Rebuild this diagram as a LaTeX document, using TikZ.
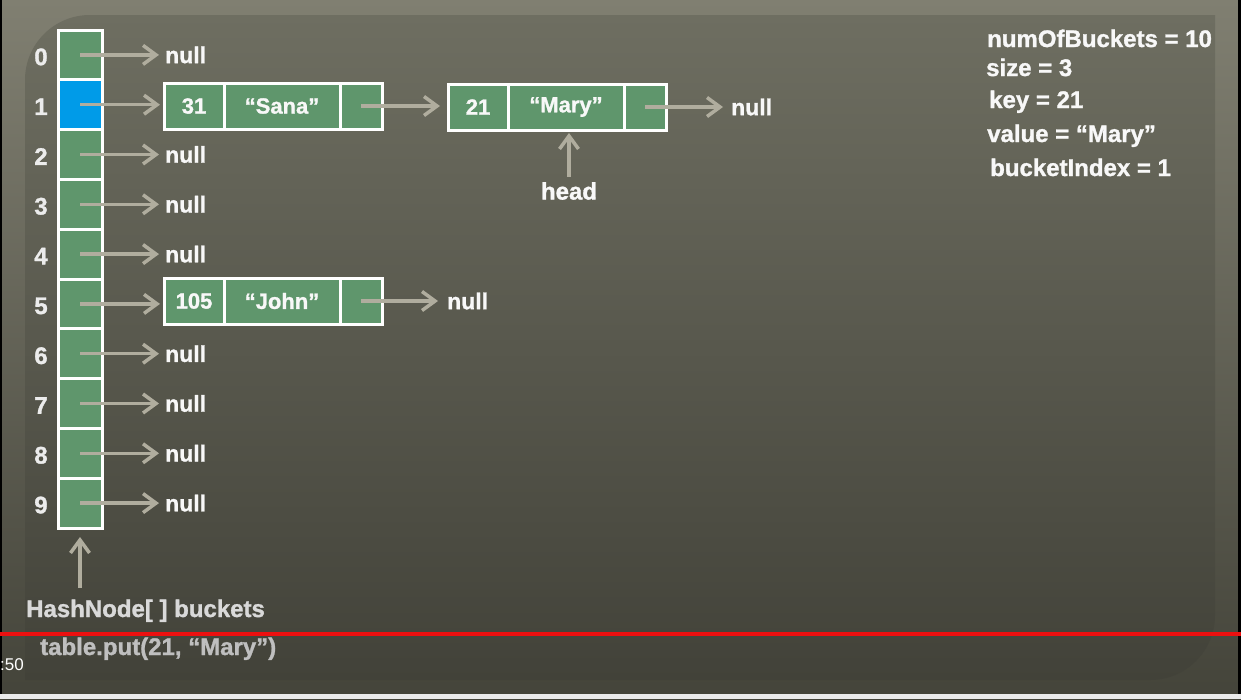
\documentclass[tikz,border=0pt]{standalone}
\usepackage{fontspec}
\setmainfont{Liberation Sans}[BoldFeatures={FakeBold=1.2}]
\usetikzlibrary{arrows.meta}
\definecolor{outertop}{RGB}{128,127,113}
\definecolor{outerbot}{RGB}{68,68,58}
\definecolor{paneltop}{RGB}{110,110,97}
\definecolor{panelbot}{RGB}{66,66,57}
\definecolor{cellgreen}{RGB}{95,150,108}
\definecolor{cellblue}{RGB}{0,155,232}
\definecolor{arrowgray}{RGB}{176,173,158}
\definecolor{txtwhite}{RGB}{248,248,248}
\definecolor{idxwhite}{RGB}{236,236,236}
\definecolor{redline}{RGB}{236,16,16}
\begin{document}
\begin{tikzpicture}[x=1pt,y=-1pt,
  cell/.style={draw=white, line width=3pt, fill=cellgreen, minimum width=44pt, minimum height=49.8pt, inner sep=0pt, outer sep=0pt},
  part/.style={draw=white, line width=3pt, fill=cellgreen, minimum height=46pt, inner sep=0pt, outer sep=0pt, font=\bfseries\fontsize{22}{24}\selectfont, text=txtwhite},
  ptr/.style={draw=arrowgray, line width=3.5pt, -{Straight Barb[length=13pt,width=19pt]}},
  nulltxt/.style={font=\bfseries\fontsize{23}{26}\selectfont, text=txtwhite, anchor=west, inner sep=0pt},
  idx/.style={font=\bfseries\fontsize{24}{26}\selectfont, text=idxwhite, inner sep=0pt},
  infotxt/.style={font=\bfseries\fontsize{24}{26}\selectfont, text=txtwhite, anchor=base west, inner sep=0pt},
  captxt/.style={font=\bfseries\fontsize{24}{26}\selectfont, anchor=base west, inner sep=0pt}
]
% background
\useasboundingbox (0,0) rectangle (1241,699);
\shade[top color=outertop, bottom color=outerbot] (0,0) rectangle (1241,699);
\shade[top color=paneltop, bottom color=panelbot]
  (25,680) -- (25,80) .. controls (25,44) and (54,15) .. (90,15)
  -- (1215,15) -- (1215,615) .. controls (1215,651) and (1186,680) .. (1150,680) -- cycle;
\fill[black] (1238,0) rectangle (1241,694);
\fill[black] (0,0) rectangle (2,694);
\fill[black!8] (0,694) rectangle (1241,699);

% buckets
\foreach \i in {0,...,9} {
  \pgfmathsetmacro{\yy}{54.9+49.8*\i}
  \node[cell] (b\i) at (80,\yy) {};
  \node[idx] (l\i) at (41,\yy+2) {\i};
}
\node[cell, fill=cellblue] (b1) at (80,104.7) {};

% null pointers
\foreach \i in {0,2,3,4,6,7,8,9} {
  \pgfmathsetmacro{\yy}{54.9+49.8*\i}
  \node[nulltxt] (n\i) at (165,\yy) {null};
  \draw[ptr, shorten >=6pt] (b\i.center) -- (n\i.west);
}

% Sana node
\node[part, minimum width=60pt] (sk) at (194,106) {31};
\node[part, minimum width=116pt, anchor=west] (sv) at (sk.east) {“Sana”};
\node[part, minimum width=42pt, anchor=west] (sn) at (sv.east) {};
% Mary node
\node[part, minimum width=60pt] (mk) at (478,107) {21};
\node[part, minimum width=116pt, anchor=west] (mv) at (mk.east) {“Mary”};
\node[part, minimum width=42pt, anchor=west] (mn) at (mv.east) {};
\node[nulltxt] (mnull) at (731,107) {null};
% John node
\node[part, minimum width=60pt] (jk) at (194,301) {105};
\node[part, minimum width=116pt, anchor=west] (jv) at (jk.east) {“John”};
\node[part, minimum width=42pt, anchor=west] (jn) at (jv.east) {};
\node[nulltxt] (jnull) at (447,301) {null};

\draw[ptr, shorten >=4pt] (b1.center) -- (b1.center -| sk.west);
\draw[ptr, shorten >=8pt] (sn.center) -- (sn.center -| mk.west);
\draw[ptr, shorten >=8pt] (mn.center) -- (mnull.west);
\draw[ptr, shorten >=4pt] (b5.center) -- (b5.center -| jk.west);
\draw[ptr, shorten >=9pt] (jn.center) -- (jnull.west);

% head
\node[font=\bfseries\fontsize{24}{26}\selectfont, text=txtwhite, inner sep=0pt] (head) at (569,191) {head};
\draw[ptr, shorten <=5pt, shorten >=3pt] (head.north) -- (head.north |- mv.south);

% buckets caption
\node[captxt, text=black!15] (hn) at (26,617) {HashNode[ ] buckets};
\coordinate (hnarrow) at (80,588);
\draw[ptr, shorten >=9pt] (hnarrow) -- (b9.south);

% info
\node[infotxt] (i1) at (987,47) {numOfBuckets = 10};
\node[infotxt] (i2) at (986,76) {size = 3};
\node[infotxt] (i3) at (989,108) {key = 21};
\node[infotxt] (i4) at (987,142) {value = “Mary”};
\node[infotxt] (i5) at (990,176) {bucketIndex = 1};

% bottom
\draw[redline, line width=4pt] (0,634) -- (1241,634);
\node[captxt, text=black!25] (tp) at (40,655) {table.put(21, “Mary”)};
\node[anchor=base west, inner sep=0pt, text=white, font=\fontsize{17}{19}\selectfont] (tm) at (0,670) {:50};
\end{tikzpicture}
\end{document}
